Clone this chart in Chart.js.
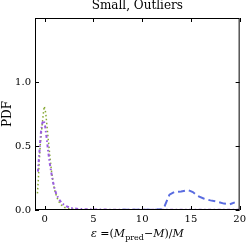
<!DOCTYPE html>
<html>
<head>
<meta charset="utf-8">
<script src="https://cdn.jsdelivr.net/npm/chart.js@4"></script>
<style>
  html, body { margin: 0; padding: 0; background: #fff; }
  #wrap { width: 249px; height: 244px; }
</style>
</head>
<body>
<div id="wrap"><canvas id="pdfChart" width="249" height="244"></canvas></div>
<script>
// values
const greenX = [-0.75, -0.65, -0.55, -0.45, -0.3, -0.15, -0.05, 0.1, 0.25, 0.4, 0.55, 0.7, 0.85, 1.0, 1.2, 1.4, 1.7, 2.0, 2.5, 3.0, 3.5];
const greenY = [0.13, 0.25, 0.4, 0.52, 0.64, 0.75, 0.81, 0.76, 0.64, 0.52, 0.4, 0.3, 0.22, 0.16, 0.11, 0.07, 0.04, 0.02, 0.01, 0.005, 0];

const purpleX = [-0.7, -0.6, -0.5, -0.4, -0.25, -0.1, 0.05, 0.2, 0.35, 0.5, 0.7, 0.85, 1.0, 1.2, 1.5, 1.8, 2.2, 2.7, 3.5, 5, 8, 12, 16, 20];
const purpleY = [0.3, 0.4, 0.5, 0.6, 0.68, 0.7, 0.65, 0.56, 0.46, 0.37, 0.28, 0.22, 0.17, 0.12, 0.08, 0.05, 0.03, 0.015, 0.008, 0.004, 0.002, 0.001, 0.001, 0.001];

const blueX = [0, 2, 4, 6, 8, 10, 11.5, 12.0, 12.3, 12.8, 13.3, 14.0, 14.7, 15.2, 15.7, 16.3, 17.0, 17.7, 18.4, 19.0, 19.5];
const blueY = [0, 0, 0, 0, 0.001, 0.002, 0.003, 0.005, 0.03, 0.12, 0.14, 0.145, 0.156, 0.14, 0.11, 0.09, 0.075, 0.065, 0.05, 0.045, 0.06];

const xTicks = [0, 5, 10, 15, 20];
const yTicks = [0, 0.5, 1.0];
const titleText = "Small, Outliers";
const yLabel = "PDF";

const serif = "'DejaVu Serif', 'Liberation Serif', serif";

function pts(xs, ys) {
    return xs.map((x, i) => ({ x: x, y: ys[i] }));
}

// frame, inward ticks, title and axis labels
const framePlugin = {
    id: "frame",
    afterDraw(chart) {
        const ctx = chart.ctx;
        const a = chart.chartArea;
        const sx = chart.scales.x, sy = chart.scales.y;
        ctx.save();
        ctx.strokeStyle = "#000";
        ctx.lineWidth = 1;
        ctx.strokeRect(a.left + 0.5, a.top + 0.5, a.right - a.left - 1, a.bottom - a.top - 1);
        ctx.beginPath();
        xTicks.forEach(v => {
            const px = Math.round(sx.getPixelForValue(v)) + 0.5;
            ctx.moveTo(px, a.bottom); ctx.lineTo(px, a.bottom - 4);
            ctx.moveTo(px, a.top); ctx.lineTo(px, a.top + 4);
        });
        yTicks.forEach(v => {
            const py = Math.round(sy.getPixelForValue(v)) + 0.5;
            ctx.moveTo(a.left, py); ctx.lineTo(a.left + 4, py);
            ctx.moveTo(a.right, py); ctx.lineTo(a.right - 4, py);
        });
        ctx.stroke();

        ctx.fillStyle = "#000";
        const cx = (a.left + a.right) / 2;
        ctx.font = "12px " + serif;
        ctx.textAlign = "center";
        ctx.textBaseline = "middle";
        ctx.fillText(titleText, cx, 6);

        ctx.save();
        ctx.translate(8, (a.top + a.bottom) / 2);
        ctx.rotate(-Math.PI / 2);
        ctx.fillText(yLabel, 0, 0);
        ctx.restore();

        // x label with subscript
        const it = "italic 11px " + serif, rm = "11px " + serif, sub = "8px " + serif;
        const parts = [
            [it, "\u03b5", 0], [rm, " =(", 0], [it, "M", 0], [sub, "pred", 3],
            [rm, "\u2212", 0], [it, "M", 0], [rm, ")/", 0], [it, "M", 0]
        ];
        let total = 0;
        parts.forEach(p => { ctx.font = p[0]; total += ctx.measureText(p[1]).width; });
        let x = cx - total / 2;
        ctx.textAlign = "left";
        ctx.textBaseline = "alphabetic";
        parts.forEach(p => {
            ctx.font = p[0];
            ctx.fillText(p[1], x, 237 + p[2]);
            x += ctx.measureText(p[1]).width;
        });
        ctx.restore();
    }
};

const ctx = document.getElementById("pdfChart").getContext("2d");
new Chart(ctx, {
    type: "line",
    data: {
        datasets: [
            {
                data: pts(blueX, blueY),
                borderColor: "#5a6ce0",
                borderWidth: 2,
                borderDash: [7, 4],
                pointRadius: 0,
                fill: false
            },
            {
                data: pts(purpleX, purpleY),
                borderColor: "#9a5de0",
                borderWidth: 2,
                borderDash: [3, 2.5, 1.5, 2.5],
                pointRadius: 0,
                fill: false
            },
            {
                data: pts(greenX, greenY),
                borderColor: "#86a832",
                borderWidth: 1.5,
                borderDash: [1.5, 2.5],
                pointRadius: 0,
                fill: false
            }
        ]
    },
    options: {
        responsive: false,
        animation: false,
        layout: { padding: { top: 18, right: 5, left: 0, bottom: 0 } },
        plugins: { legend: { display: false }, tooltip: { enabled: false } },
        scales: {
            x: {
                type: "linear",
                min: -1,
                max: 20,
                grid: { display: false, drawTicks: false },
                border: { display: false },
                afterBuildTicks: s => { s.ticks = xTicks.map(v => ({ value: v })); },
                afterFit: s => { s.height = 34; },
                ticks: {
                    color: "#000",
                    padding: 3,
                    maxRotation: 0,
                    font: { family: serif, size: 10 },
                    callback: v => String(v)
                }
            },
            y: {
                min: 0,
                max: 1.5,
                grid: { display: false, drawTicks: false },
                border: { display: false },
                afterBuildTicks: s => { s.ticks = yTicks.map(v => ({ value: v })); },
                afterFit: s => { s.width = 35; },
                ticks: {
                    color: "#000",
                    padding: 4,
                    font: { family: serif, size: 10 },
                    callback: v => v.toFixed(1)
                }
            }
        }
    },
    plugins: [framePlugin]
});
</script>
</body>
</html>
